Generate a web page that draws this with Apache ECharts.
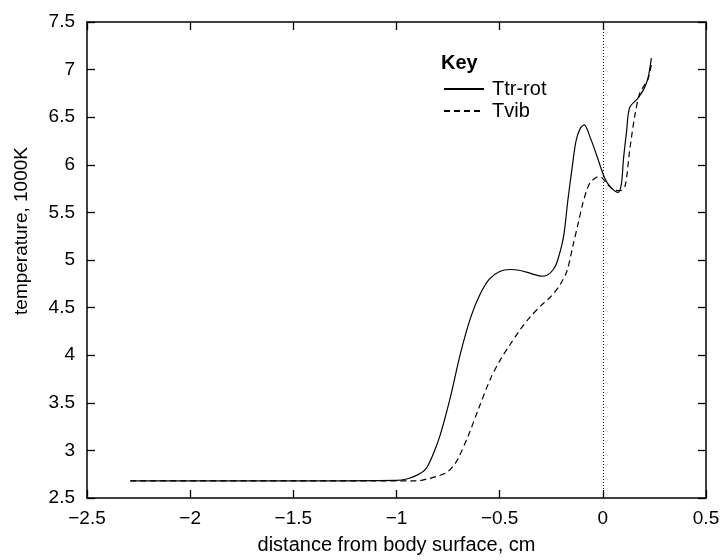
<!DOCTYPE html>
<html>
<head>
<meta charset="utf-8">
<script src="https://cdn.jsdelivr.net/npm/echarts@6/dist/echarts.min.js"></script>
<style>
  html, body { margin: 0; padding: 0; background: #fff; }
  #chart { width: 723px; height: 560px; }
</style>
</head>
<body>
<div id="chart"></div>
<script>
// distance from body surface (cm) and temperature (1000K)
const ttrX = [-2.29, -1.5, -1.0, -0.95, -0.9, -0.86, -0.83, -0.79, -0.74, -0.69, -0.64, -0.595, -0.55, -0.5, -0.45, -0.4, -0.35, -0.3, -0.27, -0.24, -0.22, -0.19, -0.17, -0.15, -0.13, -0.11, -0.09, -0.06, -0.03, 0.011, 0.04, 0.074, 0.09, 0.1, 0.115, 0.13, 0.17, 0.2, 0.22, 0.235];
const ttrY = [2.68, 2.68, 2.685, 2.70, 2.74, 2.80, 2.92, 3.15, 3.55, 4.02, 4.40, 4.64, 4.80, 4.88, 4.90, 4.89, 4.86, 4.83, 4.84, 4.90, 4.99, 5.25, 5.62, 5.95, 6.25, 6.38, 6.42, 6.28, 6.10, 5.85, 5.76, 5.71, 5.80, 6.06, 6.35, 6.60, 6.70, 6.80, 6.92, 7.12];

const tvibX = [-2.29, -1.5, -0.9, -0.85, -0.8, -0.755, -0.72, -0.70, -0.653, -0.6, -0.547, -0.5, -0.45, -0.4, -0.353, -0.3, -0.25, -0.207, -0.173, -0.144, -0.12, -0.10, -0.08, -0.062, -0.03, -0.013, 0.02, 0.05, 0.084, 0.108, 0.13, 0.156, 0.18, 0.2, 0.219, 0.235];
const tvibY = [2.68, 2.68, 2.68, 2.70, 2.73, 2.77, 2.85, 2.92, 3.15, 3.45, 3.74, 3.94, 4.11, 4.27, 4.40, 4.52, 4.62, 4.74, 4.89, 5.16, 5.38, 5.57, 5.72, 5.81, 5.87, 5.875, 5.80, 5.74, 5.73, 5.78, 6.15, 6.53, 6.76, 6.83, 6.90, 7.05];

const font = 'Liberation Sans, Arial, sans-serif';
const fmt = v => String(v).replace('-', '\u2212');

const chart = echarts.init(document.getElementById('chart'));

// frame on all four sides, ticks pointing inward
const baseAxis = {
  axisLine: { onZero: false, lineStyle: { color: '#000', width: 1.5 } },
  axisTick: { inside: true, length: 8, lineStyle: { color: '#000', width: 1.3 } },
  splitLine: { show: false }
};

chart.setOption({
  backgroundColor: '#fff',
  animation: false,
  title: {
    text: 'Key',
    left: 436,
    top: 48,
    textStyle: { fontFamily: font, fontSize: 20, fontWeight: 'bold', color: '#000' }
  },
  legend: {
    orient: 'vertical',
    left: 438,
    top: 74,
    itemWidth: 40,
    itemHeight: 14,
    itemGap: 2,
    itemStyle: { opacity: 0 },
    textStyle: { fontFamily: font, fontSize: 20, color: '#000', padding: [0, 0, 0, 3] },
    data: ['Ttr-rot', 'Tvib']
  },
  grid: { left: 87, right: 17, top: 22, bottom: 58 },
  xAxis: [
    Object.assign({}, baseAxis, {
      type: 'value', min: -2.5, max: 0.5, interval: 0.5,
      name: 'distance from body surface, cm',
      nameLocation: 'middle', nameGap: 37,
      nameTextStyle: { fontFamily: font, fontSize: 20, color: '#000' },
      axisLabel: { fontFamily: font, fontSize: 19, color: '#000', margin: 11, formatter: fmt }
    }),
    Object.assign({}, baseAxis, {
      type: 'value', min: -2.5, max: 0.5, interval: 0.5, position: 'top',
      axisLabel: { show: false }
    })
  ],
  yAxis: [
    Object.assign({}, baseAxis, {
      type: 'value', min: 2.5, max: 7.5, interval: 0.5,
      name: 'temperature, 1000K',
      nameLocation: 'middle', nameGap: 56,
      nameTextStyle: { fontFamily: font, fontSize: 19, color: '#000', padding: [0, 0, 0, 58] },
      axisLabel: { fontFamily: font, fontSize: 19, color: '#000', margin: 12, formatter: fmt }
    }),
    Object.assign({}, baseAxis, {
      type: 'value', min: 2.5, max: 7.5, interval: 0.5, position: 'right',
      axisLabel: { show: false }
    })
  ],
  series: [
    {
      name: 'Ttr-rot',
      type: 'line',
      symbol: 'none',
      smooth: 0.3,
      data: ttrX.map((x, i) => [x, ttrY[i]]),
      lineStyle: { color: '#000', width: 1.2, type: 'solid' },
      itemStyle: { color: '#000' },
      markLine: {
        silent: true,
        symbol: 'none',
        label: { show: false },
        lineStyle: { color: '#000', width: 1, type: [1, 2] },
        data: [{ xAxis: 0 }]
      }
    },
    {
      name: 'Tvib',
      type: 'line',
      symbol: 'none',
      smooth: 0.3,
      data: tvibX.map((x, i) => [x, tvibY[i]]),
      lineStyle: { color: '#000', width: 1.2, type: [6, 4] },
      itemStyle: { color: '#000' }
    }
  ]
});
</script>
</body>
</html>
